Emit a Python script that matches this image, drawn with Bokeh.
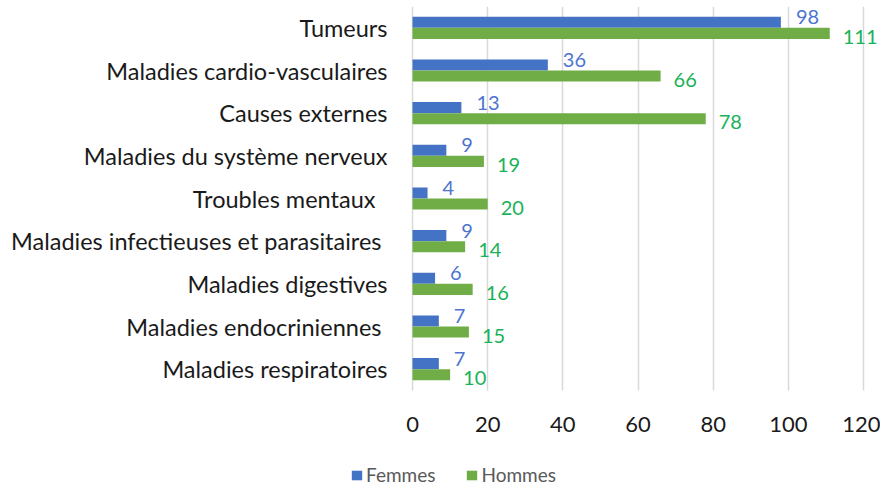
from bokeh.plotting import figure
from bokeh.models import Range1d, Legend, LegendItem, ColumnDataSource, FixedTicker, BoxAnnotation
from bokeh.transform import dodge
from bokeh.core.properties import value
from bokeh.embed import file_html
from bokeh.resources import INLINE

categories = [
    "Tumeurs",
    "Maladies cardio-vasculaires",
    "Causes externes",
    "Maladies du système nerveux",
    "Troubles  mentaux ",
    "Maladies infectieuses  et parasitaires",
    "Maladies digestives",
    "Maladies endocriniennes ",
    "Maladies respiratoires",
]
femmes = [98, 36, 13, 9, 4, 9, 6, 7, 7]
hommes = [111, 66, 78, 19, 20, 14, 16, 15, 10]
series_names = ["Femmes", "Hommes"]
x_ticks = [0, 20, 40, 60, 80, 100, 120]

BLUE = "#4472C4"
GREEN = "#70AD47"
BLUE_TXT = "#4E74D0"
GREEN_TXT = "#19B258"
FONT = "Lato"

n = len(categories)
ypos = [n - 1 - i for i in range(n)]  # category slots, top to bottom

src = ColumnDataSource(dict(
    y=ypos,
    f=femmes,
    h=hommes,
    fl=[str(v) for v in femmes],
    hl=[str(v) for v in hommes],
))

p = figure(
    width=880, height=490,
    frame_width=530, frame_height=478,
    y_range=Range1d(-2.703, n - 0.5),
    x_range=Range1d(-16.5, 124.5),
    output_backend="svg", toolbar_location=None,
    min_border_left=350, min_border_right=0,
    min_border_top=6, min_border_bottom=0,
)
p.outline_line_color = None
p.background_fill_color = "white"
p.border_fill_color = "white"

p.xgrid.grid_line_color = "#D9D9D9"
p.xgrid.grid_line_width = 1.5
p.ygrid.grid_line_color = None

# hide grid lines below the category area
p.add_layout(BoxAnnotation(top=-0.5, fill_color="white", fill_alpha=1.0,
                           line_color=None, level="underlay"))

rf = p.hbar(y=dodge("y", 0.13), left=0, right="f", height=0.26,
            source=src, fill_color=BLUE, line_color=None)
rh = p.hbar(y=dodge("y", -0.13), left=0, right="h", height=0.26,
            source=src, fill_color=GREEN, line_color=None)

p.text(x="f", y=dodge("y", 0.245), text="fl", source=src,
       x_offset=15, text_baseline="middle", text_align="left",
       text_color=BLUE_TXT, text_font=value(FONT), text_font_size="20px")
p.text(x="h", y=dodge("y", -0.215), text="hl", source=src,
       x_offset=13, text_baseline="middle", text_align="left",
       text_color=GREEN_TXT, text_font=value(FONT), text_font_size="20px")

p.xaxis.ticker = FixedTicker(ticks=x_ticks)
p.xaxis.axis_line_color = None
p.xaxis.major_tick_line_color = None
p.xaxis.minor_tick_line_color = None
p.xaxis.major_tick_out = 0
p.xaxis.major_tick_in = 0
p.xaxis.major_label_standoff = -68
p.xaxis.major_label_text_font = FONT
p.xaxis.major_label_text_font_size = "22px"
p.xaxis.major_label_text_color = "#1a1a1a"
p.xaxis.axis_label = " "
p.xaxis.axis_label_standoff = 38
p.xaxis.axis_label_text_font_size = "8px"

p.yaxis.ticker = FixedTicker(ticks=ypos)
p.yaxis.major_label_overrides = {yv: c for yv, c in zip(ypos, categories)}
p.yaxis.axis_line_color = None
p.yaxis.major_tick_line_color = None
p.yaxis.minor_tick_line_color = None
p.yaxis.major_tick_out = 0
p.yaxis.major_tick_in = 0
p.yaxis.major_label_standoff = -37
p.yaxis.major_label_text_font = FONT
p.yaxis.major_label_text_font_size = "23.5px"
p.yaxis.major_label_text_color = "#1a1a1a"

legend = Legend(
    items=[LegendItem(label=series_names[0], renderers=[rf]),
           LegendItem(label=series_names[1], renderers=[rh])],
    orientation="horizontal",
    location=(0, -2),
    glyph_width=13, glyph_height=12,
    label_height=12, label_standoff=3, spacing=30, padding=0, margin=0,
    label_text_font=FONT, label_text_font_size="19px", label_text_color="#595959",
    border_line_color=None, background_fill_alpha=0,
)
p.add_layout(legend)

open("out.html", "w").write(file_html(p, INLINE))
